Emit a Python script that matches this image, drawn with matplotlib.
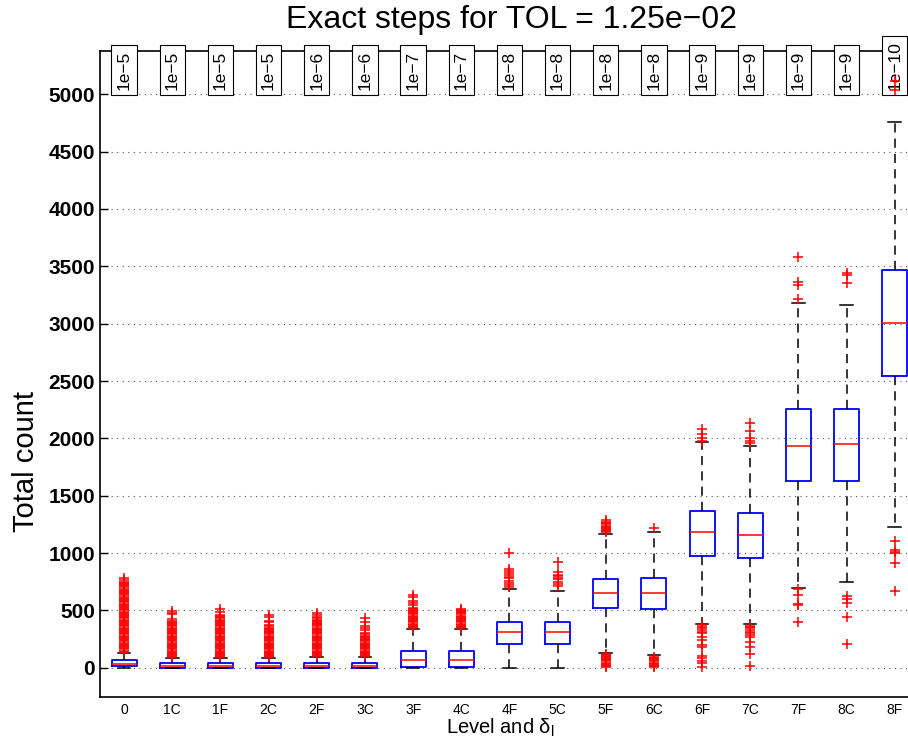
import numpy as np
import matplotlib.pyplot as plt

plt.rcParams['font.family'] = ['Liberation Sans', 'DejaVu Sans']
plt.rcParams['mathtext.fontset'] = 'custom'
plt.rcParams['mathtext.rm'] = 'Liberation Sans'
plt.rcParams['mathtext.it'] = 'Liberation Sans:italic'

# niveles y tolerancias
levels = ['0', '1C', '1F', '2C', '2F', '3C', '3F', '4C', '4F',
          '5C', '5F', '6C', '6F', '7C', '7F', '8C', '8F']
tol_labels = ['1e−5', '1e−5', '1e−5', '1e−5', '1e−6', '1e−6', '1e−7', '1e−7',
              '1e−8', '1e−8', '1e−8', '1e−8', '1e−9', '1e−9', '1e−9', '1e−9', '1e−10']

# estadisticas de cada caja
q1 = [16, 1, 1, 1, 1, 1, 10, 10, 205, 205, 519, 510, 975, 960, 1629, 1629, 2544]
med = [36, 13, 13, 13, 13, 13, 70, 70, 312, 312, 650, 655, 1184, 1160, 1934, 1949, 3010]
q3 = [68, 39, 39, 39, 39, 39, 147, 147, 402, 402, 772, 780, 1370, 1350, 2254, 2260, 3468]
whislo = [0, 0, 0, 0, 0, 0, 0, 0, 0, 0, 132, 111, 382, 382, 693, 751, 1225]
whishi = [132, 83, 83, 83, 94, 94, 335, 338, 684, 672, 1164, 1187, 1969, 1934, 3178, 3163, 4761]

fliers = [
    [140, 150, 160, 170, 180, 190, 200, 210, 220, 230, 240, 250, 260, 270, 280, 290,
     300, 310, 320, 330, 340, 350, 360, 370, 380, 390, 400, 410, 420, 430, 440, 450,
     460, 470, 480, 490, 500, 510, 520, 530, 540, 550, 560, 570, 580, 590, 600, 610,
     620, 630, 640, 650, 660, 670, 680, 690, 700, 710, 720, 730, 740, 750, 765, 780],
    [90, 100, 110, 120, 130, 140, 150, 160, 170, 180, 190, 200, 210, 220, 230, 240,
     250, 260, 270, 280, 290, 300, 310, 320, 330, 340, 350, 360, 370, 380, 390, 400,
     410, 423, 465, 478, 498],
    [90, 100, 110, 120, 130, 140, 150, 160, 170, 180, 190, 200, 210, 220, 230, 240,
     250, 260, 270, 280, 290, 300, 310, 320, 330, 340, 350, 360, 370, 380, 390, 400,
     410, 420, 430, 440, 450, 460, 490, 510],
    [90, 100, 110, 120, 130, 140, 150, 160, 170, 180, 190, 200, 210, 220, 230, 240,
     250, 260, 270, 280, 290, 300, 310, 320, 330, 340, 350, 360, 373, 395, 408, 440, 460],
    [100, 110, 120, 130, 140, 150, 160, 170, 180, 190, 200, 210, 220, 230, 240, 250,
     260, 270, 280, 290, 300, 310, 320, 330, 340, 350, 360, 370, 380, 390, 400, 410,
     420, 430, 446, 460, 475],
    [100, 110, 120, 130, 140, 150, 160, 170, 180, 190, 200, 210, 220, 230, 240, 250,
     260, 270, 280, 290, 306, 330, 345, 360, 402, 430],
    [345, 355, 365, 375, 385, 395, 405, 415, 425, 435, 445, 455, 465, 475, 485, 495,
     505, 515, 525, 545, 565, 585, 620, 635],
    [345, 355, 365, 375, 385, 395, 405, 415, 425, 435, 445, 455, 465, 475, 485, 495, 505, 510],
    [707, 725, 740, 760, 780, 795, 810, 825, 840, 860, 1000],
    [713, 730, 752, 770, 783, 797, 810, 838, 925],
    [5, 15, 25, 35, 45, 55, 65, 75, 85, 95, 105, 115, 120,
     1180, 1190, 1200, 1210, 1220, 1230, 1240, 1250, 1260, 1270, 1285],
    [5, 15, 25, 35, 45, 55, 65, 75, 85, 95, 1216],
    [4, 39, 63, 84, 104, 180, 200, 244, 272, 301, 315, 330, 345, 358, 370,
     1980, 2001, 2038, 2082],
    [16, 118, 184, 228, 266, 286, 300, 315, 330, 344, 356, 367, 1962, 1980, 2001, 2067, 2131],
    [397, 548, 556, 635, 684, 3213, 3339, 3362, 3585],
    [205, 446, 568, 597, 626, 3352, 3425, 3444],
    [670, 911, 998, 1010, 1027, 1108, 5038, 5119],
]

stats = [dict(q1=a, med=m, q3=b, whislo=lo, whishi=hi, fliers=f)
         for a, m, b, lo, hi, f in zip(q1, med, q3, whislo, whishi, fliers)]
pos = np.arange(1, len(levels) + 1)

fig = plt.figure(figsize=(9.08, 7.47), dpi=100)
ax = fig.add_axes([100 / 908, 1 - 697 / 747, 818.8 / 908, 646.3 / 747])

ax.bxp(stats, positions=pos, widths=0.52, capwidths=0.26, manage_ticks=False,
       boxprops=dict(color='#0000ff', lw=1.3),
       medianprops=dict(color='#ff0000', lw=1.1),
       whiskerprops=dict(color='black', lw=1.1, linestyle=(0, (6, 4))),
       capprops=dict(color='black', lw=1.1),
       flierprops=dict(marker='+', markeredgecolor='#ff0000', markersize=6.5,
                       markeredgewidth=1.1, linestyle='none', zorder=4))

ax.set_xlim(0.5, 17.5)
ax.set_ylim(-255, 5380)
ax.set_yticks(np.arange(0, 5001, 500))
ax.set_xticks(pos)
ax.set_xticklabels(levels, fontsize=10)
ax.tick_params(axis='x', length=0, pad=4)
ax.tick_params(axis='y', direction='in', length=6, width=1, labelsize=15, pad=3.6)
for lab in ax.get_yticklabels():
    lab.set_fontweight('bold')
ax.yaxis.grid(True, linestyle=(0, (1, 4)), color='#555555', lw=0.8)
ax.set_axisbelow(True)
for s in ['left', 'top', 'bottom']:
    ax.spines[s].set_linewidth(1.2)

# etiquetas de tolerancia arriba
for p, t in zip(pos, tol_labels):
    ax.text(p, 5040, t, rotation=90, ha='center', va='bottom', fontsize=12.5,
            bbox=dict(boxstyle='square,pad=0.3', fc='white', ec='black', lw=0.8),
            zorder=3, clip_on=False)

ax.set_ylabel('Total count', fontsize=21)
ax.yaxis.set_label_coords(-0.073, 0.364)
ax.set_xlabel('Level and δ$_{\\mathrm{l}}$', fontsize=14.5)
ax.xaxis.set_label_coords(0.489, -0.031)

fig.text(512 / 908, 1 - 28 / 747, 'Exact steps for TOL = 1.25e−02', fontsize=23,
         ha='center', va='baseline')

fig.savefig('out.png', dpi=100)
